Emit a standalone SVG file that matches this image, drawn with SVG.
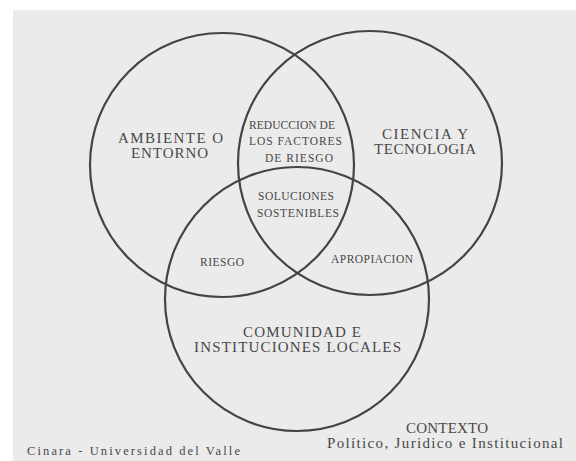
<svg xmlns="http://www.w3.org/2000/svg" width="576" height="461" viewBox="0 0 576 461">
<style>
.c{fill:none;stroke:#444;stroke-width:2.2}
text{font-family:"Liberation Serif","DejaVu Serif",serif;fill:#484848}
.big{font-size:15px}
.sm{font-size:11.5px}
.foot{font-size:12.5px}
</style>
<rect x="0" y="0" width="576" height="461" fill="#ffffff"/>
<rect x="13" y="10" width="563" height="451" fill="#ebebeb"/>
<g id="ambiente">
<circle class="c" cx="222" cy="165" r="132"/>
<text class="big" x="118" y="142.5" textLength="105" lengthAdjust="spacing">AMBIENTE O</text>
<text class="big" x="131" y="158" textLength="77" lengthAdjust="spacing">ENTORNO</text>
</g>
<g id="ciencia">
<circle class="c" cx="370" cy="163" r="132"/>
<text class="big" x="382" y="138.5" textLength="86" lengthAdjust="spacing">CIENCIA Y</text>
<text class="big" x="374" y="154" textLength="102" lengthAdjust="spacing">TECNOLOGIA</text>
</g>
<g id="comunidad">
<circle class="c" cx="297" cy="299" r="132"/>
<text class="big" x="243" y="336.5" textLength="118" lengthAdjust="spacing">COMUNIDAD E</text>
<text class="big" x="194" y="352" textLength="207" lengthAdjust="spacing">INSTITUCIONES LOCALES</text>
</g>
<g id="reduccion">
<text class="sm" x="249" y="129" textLength="86" lengthAdjust="spacing">REDUCCION DE</text>
<text class="sm" x="249" y="145" textLength="93" lengthAdjust="spacing">LOS FACTORES</text>
<text class="sm" x="265" y="162" textLength="68" lengthAdjust="spacing">DE RIESGO</text>
</g>
<g id="soluciones">
<text class="sm" x="258" y="200" textLength="76" lengthAdjust="spacing">SOLUCIONES</text>
<text class="sm" x="257" y="217" textLength="82" lengthAdjust="spacing">SOSTENIBLES</text>
</g>
<g id="riesgo">
<text class="sm" x="200" y="266" textLength="44" lengthAdjust="spacing">RIESGO</text>
</g>
<g id="apropiacion">
<text class="sm" x="331" y="263" textLength="82" lengthAdjust="spacing">APROPIACION</text>
</g>
<g id="contexto">
<text class="big" x="406" y="432.5" textLength="82" lengthAdjust="spacing">CONTEXTO</text>
<text class="big" x="327" y="448" textLength="236" lengthAdjust="spacing">Político, Juridico e Institucional</text>
</g>
<g id="fuente">
<text class="foot" x="27" y="455" textLength="213" lengthAdjust="spacing">Cinara - Universidad del Valle</text>
</g>
<g id="connectors"></g>
</svg>
